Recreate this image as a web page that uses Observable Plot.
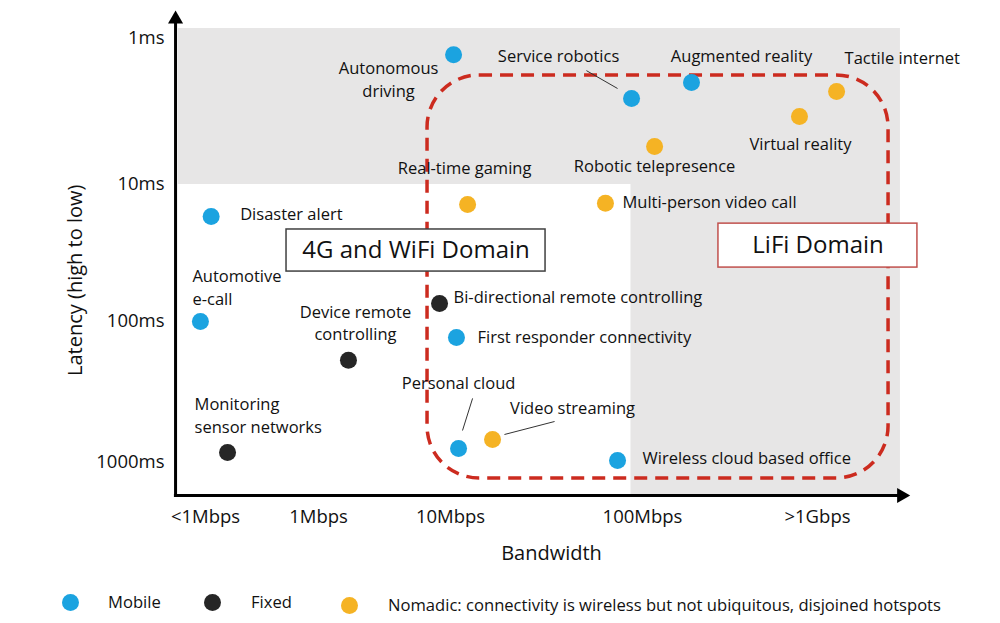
<!DOCTYPE html>
<html>
<head>
<meta charset="utf-8">
<script src="https://cdn.jsdelivr.net/npm/d3@7"></script>
<script src="https://cdn.jsdelivr.net/npm/@observablehq/plot@0.6"></script>
<style>
  html, body { margin: 0; padding: 0; background: #fff; }
  body { font-family: "Open Sans", sans-serif; color: #111; }
  #wrap { width: 1000px; height: 623px; overflow: hidden; }
  #legend { position: relative; width: 1000px; height: 43px; font-size: 16.6px; }
  .sw { width: 17px; height: 17px; border-radius: 50%; display: inline-block; }
  .lt { position: absolute; white-space: nowrap; }
</style>
</head>
<body>
<div id="wrap">
  <div id="chart"></div>
  <div id="legend"></div>
</div>
<script>
// ---------- data ----------
// Bandwidth index: 0 = <1Mbps, 1 = 1Mbps, 2 = 10Mbps, 3 = 100Mbps, 4 = >1Gbps
const bandwidthTicks = ["<1Mbps", "1Mbps", "10Mbps", "100Mbps", ">1Gbps"];
const latencyTicks = [1, 10, 100, 1000];
const latencyTickLabels = ["1ms", "10ms", "100ms", "1000ms"];

const categories = ["Mobile", "Fixed", "Nomadic"];
const categoryLegend = ["Mobile", "Fixed", "Nomadic: connectivity is wireless but not ubiquitous, disjoined hotspots"];

const mobileNames = ["Autonomous driving", "Service robotics", "Augmented reality", "Disaster alert",
  "Automotive e-call", "First responder connectivity", "Personal cloud", "Wireless cloud based office"];
const mobileBandwidth = [2.016, 2.943, 3.28, 0.05, -0.045, 2.031, 2.042, 2.87];
const mobileLatency = [1.29, 2.58, 2.0, 17.1, 100, 130, 796, 968];

const fixedNames = ["Bi-directional remote controlling", "Device remote controlling", "Monitoring sensor networks"];
const fixedBandwidth = [1.917, 1.227, 0.195];
const fixedLatency = [74, 188, 849];

const nomadicNames = ["Tactile internet", "Virtual reality", "Robotic telepresence", "Real-time gaming",
  "Multi-person video call", "Video streaming"];
const nomadicBandwidth = [4.109, 3.897, 3.069, 2.089, 2.807, 2.219];
const nomadicLatency = [2.31, 3.42, 5.49, 14.0, 13.7, 687];

const domainNames = ["4G and WiFi Domain", "LiFi Domain"];

// ---------- layout (annotation geometry in data units / offsets) ----------
const X_AXIS = -0.265, X_ARROW = 4.48, Y_AXIS = 1714, Y_ARROW = 0.738;
const grayRegions = [
  {x1: -0.24, x2: 4.474, y1: 0.854, y2: 10},
  {x1: 2.94, x2: 4.474, y1: 10, y2: Y_AXIS}
];
const lifiZone = [{x1: 1.826, x2: 4.406, y1: 1.79, y2: 1298}];
const domainBoxes = [
  {x1: 0.717, x2: 2.495, y1: 21.3, y2: 43.2, cx: 1.739, cy: 30.3},
  {x1: 3.434, x2: 4.571, y1: 19.3, y2: 40.4, cx: 4.003, cy: 27.9}
];
const leaders = [
  {x1: 2.708, y1: 1.66, x2: 2.87, y2: 2.2},
  {x1: 2.115, y1: 351, x2: 2.0625, y2: 593},
  {x1: 2.542, y1: 512, x2: 2.281, y2: 633}
];
const labelLayout = {
  "Autonomous driving": {text: "Autonomous\ndriving", dx: -65, dy: 25.5, anchor: "middle"},
  "Service robotics": {dx: -73, dy: -42, anchor: "middle"},
  "Augmented reality": {dx: 50, dy: -26, anchor: "middle"},
  "Tactile internet": {dx: 8, dy: -33, anchor: "start"},
  "Virtual reality": {dx: 1, dy: 28, anchor: "middle"},
  "Robotic telepresence": {dx: 0, dy: 20, anchor: "middle"},
  "Real-time gaming": {dx: -3, dy: -36, anchor: "middle"},
  "Multi-person video call": {dx: 17, dy: -1, anchor: "start"},
  "Disaster alert": {dx: 29, dy: -2, anchor: "start"},
  "Automotive e-call": {text: "Automotive\ne-call", dx: -8, dy: -33.5, anchor: "start"},
  "Device remote controlling": {text: "Device remote\ncontrolling", dx: 7, dy: -36.5, anchor: "middle"},
  "Bi-directional remote controlling": {dx: 14, dy: -6, anchor: "start"},
  "First responder connectivity": {dx: 21, dy: 0, anchor: "start"},
  "Personal cloud": {dx: 0, dy: -65, anchor: "middle"},
  "Video streaming": {dx: 80, dy: -31, anchor: "middle"},
  "Monitoring sensor networks": {text: "Monitoring\nsensor networks", dx: -33, dy: -36.5, anchor: "start"},
  "Wireless cloud based office": {dx: 25, dy: -2, anchor: "start"}
};
const LABEL_SHIFT = -2;
const colors = ["#1ba3e0", "#262626", "#f5b324"];

// ---------- build table ----------
const points = [
  ...mobileNames.map((n, i) => ({name: n, type: "Mobile", bw: mobileBandwidth[i], lat: mobileLatency[i]})),
  ...fixedNames.map((n, i) => ({name: n, type: "Fixed", bw: fixedBandwidth[i], lat: fixedLatency[i]})),
  ...nomadicNames.map((n, i) => ({name: n, type: "Nomadic", bw: nomadicBandwidth[i], lat: nomadicLatency[i]}))
];

const FONT = "Open Sans";
const labelMarks = points.map(p => {
  const L = labelLayout[p.name];
  return Plot.text([p], {
    x: "bw", y: "lat", text: () => L.text || p.name,
    dx: L.dx, dy: L.dy + LABEL_SHIFT, textAnchor: L.anchor,
    fontFamily: FONT, fontSize: 16.5, lineHeight: 1.39, fill: "#111"
  });
});

const chart = Plot.plot({
  width: 1000,
  height: 580,
  marginLeft: 0, marginRight: 0, marginTop: 0, marginBottom: 0,
  x: {type: "linear", domain: [0, 1, 2, 3, 4], range: [205, 318, 450, 642, 817], axis: null},
  y: {type: "log", domain: latencyTicks, range: [38, 184, 321, 462], axis: null},
  color: {domain: categories, range: colors},
  style: {background: "#fff", overflow: "visible"},
  marks: [
    Plot.rect(grayRegions, {x1: "x1", x2: "x2", y1: "y1", y2: "y2", fill: "#e7e6e6"}),
    Plot.rect(lifiZone, {x1: "x1", x2: "x2", y1: "y1", y2: "y2", fill: "none",
      stroke: "#cc2b1f", strokeWidth: 3.5, strokeDasharray: "13,8", rx: 52}),
    Plot.ruleX([X_AXIS], {y1: Y_AXIS, y2: Y_ARROW, stroke: "#000", strokeWidth: 3}),
    Plot.ruleY([Y_AXIS], {x1: X_AXIS - 0.01, x2: X_ARROW, stroke: "#000", strokeWidth: 3}),
    Plot.dot([{x: X_AXIS, y: Y_ARROW, r: 0}, {x: X_ARROW, y: Y_AXIS, r: 90}],
      {x: "x", y: "y", rotate: "r", symbol: "triangle", r: 5.6, fill: "#000"}),
    Plot.rect(domainBoxes.slice(0, 1), {x1: "x1", x2: "x2", y1: "y1", y2: "y2", fill: "#fff", stroke: "#404040", strokeWidth: 1.5}),
    Plot.rect(domainBoxes.slice(1), {x1: "x1", x2: "x2", y1: "y1", y2: "y2", fill: "#fff", stroke: "#c0504d", strokeWidth: 1.5}),
    Plot.text(domainBoxes, {x: "cx", y: "cy", text: (d, i) => domainNames[i], fontFamily: FONT, fontSize: 24, fill: "#111"}),
    Plot.link(leaders, {x1: "x1", y1: "y1", x2: "x2", y2: "y2", stroke: "#333", strokeWidth: 1}),
    Plot.dot(points, {x: "bw", y: "lat", fill: "type", r: 8.5}),
    ...labelMarks,
    Plot.text(bandwidthTicks, {x: (d, i) => i, y: Y_AXIS, text: d => d, dy: 22,
      fontFamily: FONT, fontSize: 18.5, fill: "#111"}),
    Plot.text(latencyTickLabels, {x: X_AXIS, y: (d, i) => latencyTicks[i], text: d => d, dx: -11,
      textAnchor: "end", fontFamily: FONT, fontSize: 18.5, fill: "#111"}),
    Plot.text(["Bandwidth"], {x: 2.526, y: Y_AXIS, text: d => d, dy: 58, fontFamily: FONT, fontSize: 20, fill: "#111"}),
    Plot.text(["Latency (high to low)"], {x: X_AXIS, y: 50, text: d => d, dx: -100, rotate: -90,
      fontFamily: FONT, fontSize: 20, fill: "#111"})
  ]
});
document.getElementById("chart").appendChild(chart);

// ---------- legend ----------
const legend = document.getElementById("legend");
const swatchLeft = [62, 204, 341];
const textLeft = [108, 251, 388];
categories.forEach((c, i) => {
  const sw = document.createElement("span");
  sw.className = "sw";
  sw.style.cssText = `position:absolute;left:${swatchLeft[i]}px;top:${i === 2 ? 17 : 14}px;background:${colors[i]}`;
  legend.appendChild(sw);
  const t = document.createElement("span");
  t.className = "lt";
  t.style.cssText = `left:${textLeft[i]}px;top:${i === 2 ? 13 : 10}px;`;
  t.textContent = categoryLegend[i];
  legend.appendChild(t);
});
</script>
</body>
</html>
